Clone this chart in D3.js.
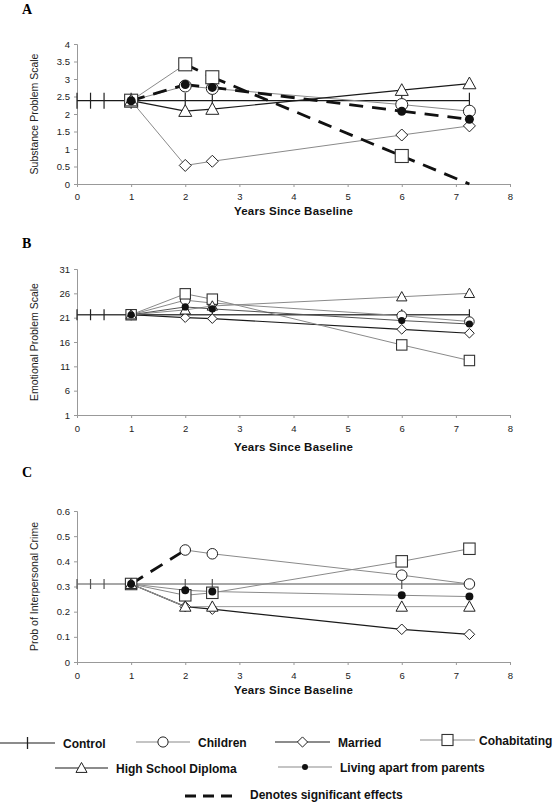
<!DOCTYPE html>
<html><head><meta charset="utf-8">
<script src="https://cdn.jsdelivr.net/npm/d3@7"></script>
<style>
body{margin:0;background:#fff;}
svg{display:block;font-family:"Liberation Sans",Arial,sans-serif;}
</style></head>
<body><svg id="chart" width="553" height="804"></svg>
<script>
// ---------- DATA ----------
const years = [1, 2, 2.5, 6, 7.25];
const controlTickYears = [0, 0.25, 0.5, 1, 2, 2.5, 6, 7.25];
const xTicks = [0, 1, 2, 3, 4, 5, 6, 7, 8];
const seriesNames = ["Control", "Children", "Married", "Cohabitating", "High School Diploma", "Living apart from parents"];

// Panel A: Substance Problem Scale
const aTicks = [0, 0.5, 1, 1.5, 2, 2.5, 3, 3.5, 4];
const aControl = 2.38;
const aChildren = [2.38, 2.80, 2.73, 2.27, 2.08];
const aMarried = [2.38, 0.53, 0.65, 1.40, 1.66];
const aCohab = [2.38, 3.42, 3.05, 0.80, 0.0];
const aDiploma = [2.38, 2.08, 2.14, 2.68, 2.87];
const aApart = [2.38, 2.84, 2.76, 2.08, 1.85];
// significant segments (index of segment start) per series
const aSig = {children: [], married: [], cohab: [1, 2, 3], diploma: [], apart: [0, 1, 2, 3]};

// Panel B: Emotional Problem Scale
const bTicks = [1, 6, 11, 16, 21, 26, 31];
const bControl = 21.6;
const bChildren = [21.6, 24.6, 24.0, 21.4, 20.2];
const bMarried = [21.6, 21.0, 20.8, 18.6, 17.8];
const bCohab = [21.6, 25.9, 24.8, 15.4, 12.2];
const bDiploma = [21.6, 22.6, 23.4, 25.3, 26.0];
const bApart = [21.6, 23.2, 22.8, 20.4, 19.7];
const bSig = {children: [], married: [], cohab: [], diploma: [], apart: []};

// Panel C: Prob of Interpersonal Crime
const cTicks = [0, 0.1, 0.2, 0.3, 0.4, 0.5, 0.6];
const cControl = 0.31;
const cChildren = [0.31, 0.445, 0.43, 0.345, 0.31];
const cMarried = [0.31, 0.22, 0.21, 0.13, 0.11];
const cCohab = [0.31, 0.265, 0.275, 0.40, 0.45];
const cDiploma = [0.31, 0.22, 0.22, 0.22, 0.22];
const cApart = [0.31, 0.285, 0.28, 0.265, 0.26];
const cSig = {children: [0], married: [], cohab: [], diploma: [], apart: []};

// ---------- DRAWING ----------
const svg = d3.select("#chart");
const GRAY = "#8a8a8a", DARK = "#1a1a1a";

const panels = [
  {label: "A", labelY: 14, top: 44, bottom: 184, ticks: aTicks, title: "Substance Problem Scale",
   control: aControl, data: {children: aChildren, married: aMarried, cohab: aCohab, diploma: aDiploma, apart: aApart},
   sig: aSig, colors: {control: DARK, children: GRAY, married: GRAY, cohab: GRAY, diploma: DARK, apart: DARK},
   ms: 1.0, ctl: 16, tickOff: 16, titleOff: 31},
  {label: "B", labelY: 248, top: 269, bottom: 415, ticks: bTicks, title: "Emotional Problem Scale",
   control: bControl, data: {children: bChildren, married: bMarried, cohab: bCohab, diploma: bDiploma, apart: bApart},
   sig: bSig, colors: {control: "#444", children: GRAY, married: DARK, cohab: GRAY, diploma: GRAY, apart: "#555"},
   ms: 0.8, ctl: 11, tickOff: 17, titleOff: 36},
  {label: "C", labelY: 477, top: 511, bottom: 662, ticks: cTicks, title: "Prob of Interpersonal Crime",
   control: cControl, data: {children: cChildren, married: cMarried, cohab: cCohab, diploma: cDiploma, apart: cApart},
   sig: cSig, colors: {control: GRAY, children: GRAY, married: DARK, cohab: GRAY, diploma: "#9a9a9a", apart: GRAY},
   ms: 0.88, ctl: 10, tickOff: 17, titleOff: 32}
];

const x = d3.scaleLinear().domain([0, 8]).range([77, 510]);

function drawMarker(g, type, cx, cy, s) {
  if (type === "circle") {
    g.append("circle").attr("cx", cx).attr("cy", cy).attr("r", 6 * s)
      .attr("fill", "#fff").attr("stroke", "#222").attr("stroke-width", 1);
  } else if (type === "square") {
    const h = 6.5 * s;
    g.append("rect").attr("x", cx - h).attr("y", cy - h).attr("width", 2 * h).attr("height", 2 * h)
      .attr("fill", "#fff").attr("stroke", "#333").attr("stroke-width", 1.1);
  } else if (type === "diamond") {
    const h = 6 * s;
    g.append("path").attr("d", `M${cx},${cy - h}L${cx + h},${cy}L${cx},${cy + h}L${cx - h},${cy}Z`)
      .attr("fill", "#fff").attr("stroke", "#222").attr("stroke-width", 1);
  } else if (type === "triangle") {
    const h = 6.5 * s;
    g.append("path").attr("d", `M${cx},${cy - h}L${cx + h},${cy + h * 0.8}L${cx - h},${cy + h * 0.8}Z`)
      .attr("fill", "#fff").attr("stroke", "#222").attr("stroke-width", 1);
  } else if (type === "dot") {
    g.append("circle").attr("cx", cx).attr("cy", cy).attr("r", 4.5 * s).attr("fill", "#111");
  }
}

const keys = ["children", "married", "cohab", "diploma", "apart"];
const markerTypes = {children: "circle", married: "diamond", cohab: "square", diploma: "triangle", apart: "dot"};

panels.forEach(p => {
  const y = d3.scaleLinear().domain([p.ticks[0], p.ticks[p.ticks.length - 1]]).range([p.bottom, p.top]);
  const g = svg.append("g");

  // panel label
  svg.append("text").attr("x", 22).attr("y", p.labelY).text(p.label)
    .attr("font-family", "'Liberation Serif','Times New Roman',serif").attr("font-weight", "bold").attr("font-size", 14);

  // axes
  const yAxis = d3.axisLeft(y).tickValues(p.ticks).tickSize(3).tickPadding(4).tickFormat(d => d3.format("")(+d.toFixed(2)));
  const ya = g.append("g").attr("transform", `translate(${x(0)},0)`).call(yAxis);
  const xAxis = d3.axisBottom(x).tickValues(xTicks).tickSize(3).tickPadding(6).tickFormat(d3.format("d"));
  const xa = g.append("g").attr("transform", `translate(0,${p.bottom})`).call(xAxis);
  [ya, xa].forEach(a => {
    a.select(".domain").attr("stroke", "#999").attr("stroke-width", 1);
    a.selectAll(".tick line").attr("stroke", "#999");
    a.selectAll("text").attr("font-size", 9.5).attr("fill", "#222")
      .attr("font-family", "'Liberation Sans',Arial,sans-serif");
  });
  xa.selectAll("text").attr("dy", null).attr("y", p.tickOff);

  // titles
  g.append("text").attr("x", (x(0) + x(8)) / 2).attr("y", p.bottom + p.titleOff).attr("text-anchor", "middle")
    .attr("font-weight", "bold").attr("font-size", 11.5).attr("letter-spacing", 0.2).attr("fill", "#111")
    .text("Years Since Baseline");
  g.append("text").attr("transform", `translate(38,${(p.top + p.bottom) / 2}) rotate(-90)`)
    .attr("text-anchor", "middle").attr("font-size", 10.5).attr("fill", "#222").text(p.title);

  // control line
  g.append("line").attr("x1", x(controlTickYears[0])).attr("x2", x(controlTickYears[controlTickYears.length - 1]))
    .attr("y1", y(p.control)).attr("y2", y(p.control)).attr("stroke", p.colors.control).attr("stroke-width", 1.3);

  // series lines
  keys.forEach(k => {
    const vals = p.data[k];
    for (let i = 0; i < vals.length - 1; i++) {
      const sig = p.sig[k].includes(i);
      const seg = g.append("line")
        .attr("x1", x(years[i])).attr("y1", y(vals[i]))
        .attr("x2", x(years[i + 1])).attr("y2", y(vals[i + 1]));
      if (sig) {
        seg.attr("stroke", "#111").attr("stroke-width", 2.8).attr("stroke-dasharray", "14,9");
      } else {
        seg.attr("stroke", p.colors[k]).attr("stroke-width", p.colors[k] === DARK ? 1.2 : 1);
      }
    }
  });

  // control tick markers
  controlTickYears.forEach(t => {
    g.append("line").attr("x1", x(t)).attr("x2", x(t))
      .attr("y1", y(p.control) - p.ctl / 2).attr("y2", y(p.control) + p.ctl / 2)
      .attr("stroke", p.colors.control === GRAY ? "#555" : "#222").attr("stroke-width", 1.2);
  });

  // markers
  keys.forEach(k => {
    p.data[k].forEach((v, i) => {
      if (v <= p.ticks[0]) return; // sits on the axis: no marker shown
      drawMarker(g, markerTypes[k], x(years[i]), y(v), p.ms);
    });
  });
});

// ---------- LEGEND ----------
const legendItems = [
  {name: seriesNames[0], type: "tick", x0: 0, x1: 55, ty: 743, tx: 63, color: DARK},
  {name: seriesNames[1], type: "circle", x0: 136, x1: 190, ty: 742, tx: 198, color: GRAY},
  {name: seriesNames[2], type: "diamond", x0: 275, x1: 330, ty: 742, tx: 338, color: DARK},
  {name: seriesNames[3], type: "square", x0: 420, x1: 475, ty: 740, tx: 479, color: GRAY},
  {name: seriesNames[4], type: "triangle", x0: 55, x1: 108, ty: 768, tx: 116, color: DARK},
  {name: seriesNames[5], type: "dot", x0: 278, x1: 332, ty: 767, tx: 340, color: GRAY}
];
const lg = svg.append("g");
legendItems.forEach(it => {
  const cx = (it.x0 + it.x1) / 2;
  lg.append("line").attr("x1", it.x0).attr("x2", it.x1).attr("y1", it.ty).attr("y2", it.ty)
    .attr("stroke", it.color).attr("stroke-width", 1.1);
  if (it.type === "tick") {
    lg.append("line").attr("x1", cx).attr("x2", cx).attr("y1", it.ty - 6).attr("y2", it.ty + 6)
      .attr("stroke", "#222").attr("stroke-width", 1.3);
  } else if (it.type === "dot") {
    lg.append("circle").attr("cx", cx).attr("cy", it.ty).attr("r", 3).attr("fill", "#111");
  } else {
    drawMarker(lg, it.type, cx, it.ty, 0.85);
  }
  lg.append("text").attr("x", it.tx).attr("y", it.ty + 4.5).attr("font-weight", "bold").attr("font-size", 12)
    .attr("fill", "#111").text(it.name);
});
lg.append("line").attr("x1", 185).attr("x2", 232).attr("y1", 796).attr("y2", 796)
  .attr("stroke", "#111").attr("stroke-width", 3).attr("stroke-dasharray", "11,7");
lg.append("text").attr("x", 250).attr("y", 798.5).attr("font-weight", "bold").attr("font-size", 12)
  .attr("fill", "#111").text("Denotes significant effects");
</script></body></html>
